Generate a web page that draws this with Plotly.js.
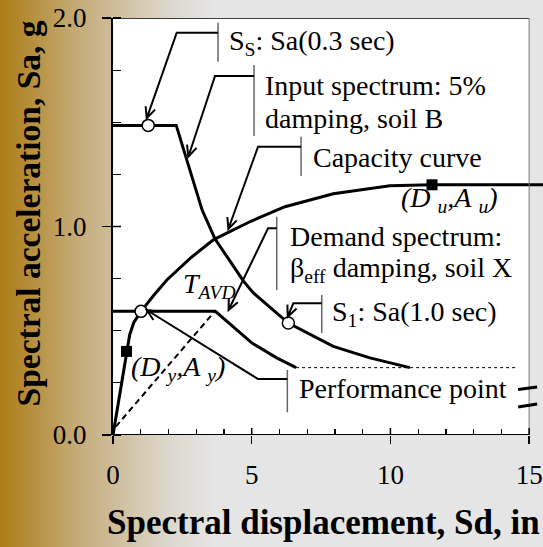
<!DOCTYPE html>
<html>
<head>
<meta charset="utf-8">
<script src="https://cdn.plot.ly/plotly-3.0.1.min.js"></script>
<style>
html,body{margin:0;padding:0;}
body{width:543px;height:547px;overflow:hidden;
background:linear-gradient(to right,#AD7C14 0px,#C2A76F 70px,#CDBB97 110px,#DDD8CE 170px,#E5E5E5 215px,#E5E5E5 100%);}
#chart{width:543px;height:547px;}
</style>
</head>
<body>
<div id="chart"></div>
<script>
// ---- data ----
const inputSd = [0, 2.28, 3.21, 3.68, 4.71, 5.06, 6.32, 7.0, 7.94, 9.26, 10.7];
const inputSa = [1.485, 1.485, 1.08, 0.94, 0.737, 0.681, 0.537, 0.49, 0.425, 0.37, 0.323];

const demandSd = [0, 3.69, 5.0, 5.9, 6.6];
const demandSa = [0.593, 0.593, 0.442, 0.37, 0.323];

const capacitySd = [0, 0.486, 0.6, 0.75, 1.01, 1.5, 1.95, 2.8, 3.63, 4.95, 6.2, 7.94, 9.98, 11.5, 15.5];
const capacitySa = [0, 0.401, 0.48, 0.54, 0.593, 0.675, 0.745, 0.85, 0.937, 1.024, 1.095, 1.157, 1.195, 1.2, 1.2];

const plateauSd = [6.6, 14.6];
const plateauSa = [0.323, 0.323];

const tavdSd = [0.1, 3.65];
const tavdSa = [0.04, 0.59];

const openPtSd = [1.27, 1.01, 6.32];     // S_S, performance point, S_1
const openPtSa = [1.485, 0.593, 0.537];

const squarePtSd = [0.486, 11.5];        // (Dy,Ay), (Du,Au)
const squarePtSa = [0.401, 1.2];

const xTickVals = [0, 5, 10, 15];
const xTickText = ['0', '5', '10', '15'];
const yTickVals = [0, 1, 2];
const yTickText = ['0.0', '1.0', '2.0'];

const xTitle = 'Spectral displacement, Sd, in';
const yTitle = 'Spectral acceleration, Sa, g';

// ---- layout helpers (pixel -> axis / paper coords, for placement only) ----
const ML = 113, MT = 18, MB = 112, W = 543, H = 547;
const XPX = (529 - ML) / 15;
const YPX = (H - MB - MT) / 2;
const px2x = p => (p - ML) / XPX;
const py2y = p => (H - MB - p) / YPX;
const px2paper = p => (p - ML) / (W - ML);
const py2paper = p => (H - MB - p) / (H - MB - MT);

const serif = 'Liberation Serif, Times New Roman, serif';
const FS = 28;

const traces = [
  {x: inputSd, y: inputSa, mode: 'lines', line: {color: 'black', width: 3}, hoverinfo: 'skip'},
  {x: demandSd, y: demandSa, mode: 'lines', line: {color: 'black', width: 3}, hoverinfo: 'skip'},
  {x: capacitySd, y: capacitySa, mode: 'lines', line: {color: 'black', width: 3}, hoverinfo: 'skip'},
  {x: plateauSd, y: plateauSa, mode: 'lines', line: {color: 'black', width: 1, dash: 'dot'}, hoverinfo: 'skip'},
  {x: tavdSd, y: tavdSa, mode: 'lines', line: {color: 'black', width: 2, dash: '6px,4px'}, hoverinfo: 'skip'},
  {x: openPtSd, y: openPtSa, mode: 'markers', marker: {symbol: 'circle', size: 12, color: 'white', line: {color: 'black', width: 1.5}}, hoverinfo: 'skip', cliponaxis: false},
  {x: squarePtSd, y: squarePtSa, mode: 'markers', marker: {symbol: 'square', size: 11, color: 'black'}, hoverinfo: 'skip', cliponaxis: false}
];

// callouts (pixels): [barX, barTop, barBottom, elbowX, elbowY, tipX, tipY]
const callouts = [
  [218, 22.7, 61.7, 176.7, 32.7, 146.7, 118.3],
  [254, 65, 136, 215, 76, 188.3, 156.7],
  [301, 136.7, 176, 258, 146.7, 228.3, 229],
  [276.7, 216.7, 290, 268, 228.3, 228.5, 310],
  [321.7, 295, 333.3, 293.3, 303.3, 287.7, 316.7],
  [287.3, 370, 412.3, 258, 379, 146.7, 310]
];

const shapes = [
  {type: 'rect', layer: 'below', xref: 'x', yref: 'y', x0: 0, x1: 15, y0: 0, y1: 2, fillcolor: 'white', line: {width: 0}},
  {type: 'line', xref: 'x', yref: 'y', x0: 0, x1: 15, y0: 2, y1: 2, line: {color: 'black', width: 1.5}},
  {type: 'line', xref: 'x', yref: 'y', x0: 15, x1: 15, y0: 0, y1: 2, line: {color: '#777', width: 1}},
  {type: 'line', xref: 'x', yref: 'y', x0: 0, x1: 15, y0: 0, y1: 0, line: {color: 'black', width: 2}},
  // axis break marks
  {type: 'line', xref: 'x', yref: 'y', x0: px2x(518), x1: px2x(537), y0: py2y(389.5), y1: py2y(387), line: {color: 'black', width: 3}},
  {type: 'line', xref: 'x', yref: 'y', x0: px2x(518), x1: px2x(537), y0: py2y(407), y1: py2y(404), line: {color: 'black', width: 3}}
];
// inner half of the major ticks (crossing ticks)
xTickVals.forEach(v => shapes.push({type: 'line', xref: 'x', yref: 'y', ysizemode: 'pixel', yanchor: 0, x0: v, x1: v, y0: 0, y1: 7, line: {color: 'black', width: 1.5}}));
yTickVals.forEach(v => shapes.push({type: 'line', xref: 'x', yref: 'y', xsizemode: 'pixel', xanchor: 0, y0: v, y1: v, x0: 0, x1: 8, line: {color: 'black', width: 1.5}}));

callouts.forEach(c => {
  const [bx, bt, bb, ex, ey, tx, ty] = c;
  shapes.push({type: 'line', xref: 'x', yref: 'y', x0: px2x(bx), x1: px2x(bx), y0: py2y(bt), y1: py2y(bb), line: {color: '#666', width: 1.5}});
  const dx = tx - ex, dy = ty - ey, L = Math.hypot(dx, dy), ux = dx / L, uy = dy / L;
  const hl = 11, hw = 5;
  const bxh = tx - ux * hl, byh = ty - uy * hl;
  const w1x = bxh - uy * hw, w1y = byh + ux * hw, w2x = bxh + uy * hw, w2y = byh - ux * hw;
  const P = (x, y) => px2x(x) + ',' + py2y(y);
  const path = 'M' + P(bx, ey) + ' L' + P(ex, ey) + ' L' + P(tx, ty) +
               ' M' + P(w1x, w1y) + ' L' + P(tx, ty) + ' L' + P(w2x, w2y);
  shapes.push({type: 'path', xref: 'x', yref: 'y', path: path, line: {color: 'black', width: 2}, fillcolor: 'rgba(0,0,0,0)'});
});

const labels = [
  [227, 42, 'S<sub>S</sub>: Sa(0.3 sec)'],
  [263, 85, 'Input spectrum: 5%'],
  [263, 118, 'damping, soil B'],
  [311, 157, 'Capacity curve'],
  [288, 236, 'Demand spectrum:'],
  [288, 269, 'β<sub>eff</sub> damping, soil X'],
  [330, 313, 'S<sub>1</sub>: Sa(1.0 sec)'],
  [297, 388, 'Performance point'],
  [181, 285, '<i>T</i><sub><i>AVD</i></sub>'],
  [129, 368, '<i>(D</i> <sub><i>y</i></sub><i>,A</i> <sub><i>y</i></sub><i>)</i>'],
  [399, 199, '<i>(D</i> <sub><i>u</i></sub><i>,A</i> <sub><i>u</i></sub><i>)</i>']
];
const annotations = labels.map(l => ({xref: 'x', yref: 'y', x: px2x(l[0]), y: py2y(l[1]), xanchor: 'left', yanchor: 'middle', align: 'left',
    text: l[2], showarrow: false, font: {family: serif, size: FS, color: 'black'}}));

// axis titles placed precisely
annotations.push({xref: 'paper', yref: 'paper', x: px2paper(323.5), y: py2paper(522), xanchor: 'center', yanchor: 'middle',
  text: '<b>' + xTitle + '</b>', showarrow: false, font: {family: serif, size: 35, color: 'black'}});
annotations.push({xref: 'paper', yref: 'paper', x: px2paper(28), y: py2paper(213.5), xanchor: 'center', yanchor: 'middle', textangle: -90,
  text: '<b>' + yTitle + '</b>', showarrow: false, font: {family: serif, size: 33.5, color: 'black'}});

const layout = {
  width: W, height: H,
  margin: {l: ML, r: 0, t: MT, b: MB, pad: 0},
  paper_bgcolor: 'rgba(0,0,0,0)',
  plot_bgcolor: 'rgba(0,0,0,0)',
  showlegend: false,
  font: {family: serif, color: 'black'},
  xaxis: {
    range: [0, 15.5], showgrid: false, zeroline: false, showline: false,
    tickmode: 'array', tickvals: xTickVals, ticktext: xTickText,
    ticks: 'outside', ticklen: 8, tickwidth: 1.5, tickcolor: 'black',
    minor: {dtick: 1, tick0: 0, ticks: 'inside', ticklen: 6, tickwidth: 1.2, tickcolor: 'black', showgrid: false},
    tickfont: {family: serif, size: 27, color: 'black'},
    ticklabelstandoff: 8
  },
  yaxis: {
    range: [0, 2], showgrid: false, zeroline: false, showline: true, linecolor: 'black', linewidth: 2,
    tickmode: 'array', tickvals: yTickVals, ticktext: yTickText,
    ticks: 'outside', ticklen: 9, tickwidth: 1.5, tickcolor: 'black',
    minor: {dtick: 0.25, tick0: 0, ticks: 'inside', ticklen: 8, tickwidth: 1.2, tickcolor: 'black', showgrid: false},
    tickfont: {family: serif, size: 27, color: 'black'},
    ticklabelstandoff: 10
  },
  shapes: shapes,
  annotations: annotations
};

Plotly.newPlot('chart', traces, layout, {displayModeBar: false, staticPlot: true});
</script>
</body>
</html>
